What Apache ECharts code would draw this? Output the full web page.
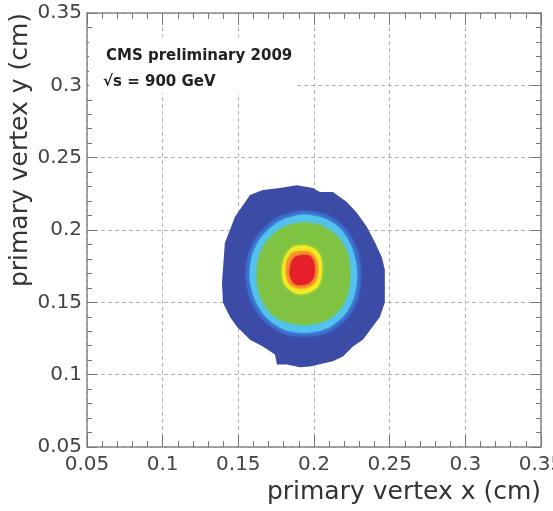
<!DOCTYPE html>
<html>
<head>
<meta charset="utf-8">
<script src="https://cdn.jsdelivr.net/npm/echarts@6/dist/echarts.min.js"></script>
<style>
  html, body { margin: 0; padding: 0; background: #fff; }
  #chart { width: 553px; height: 511px; }
</style>
</head>
<body>
<div id="chart"></div>
<script>
// axis ranges
var xRange = [0.05, 0.35];
var yRange = [0.05, 0.35];
var tickStep = 0.05;

// contour boundaries (x, y in cm), outermost first
var contourOuter = [
    [0.1478, 0.2091], [0.1577, 0.2242], [0.1662, 0.2276], [0.1775, 0.2290], [0.1887, 0.2310],
    [0.1993, 0.2290], [0.2039, 0.2262], [0.2125, 0.2262], [0.2217, 0.2194], [0.2283, 0.2119],
    [0.2349, 0.2023], [0.2402, 0.1916], [0.2448, 0.1814], [0.2468, 0.1725], [0.2468, 0.1499],
    [0.2435, 0.1399], [0.2382, 0.1324], [0.2323, 0.1242], [0.2257, 0.1194], [0.2191, 0.1126],
    [0.2125, 0.1092], [0.1973, 0.1057], [0.1907, 0.1051], [0.1821, 0.1071], [0.1755, 0.1071],
    [0.1742, 0.1140], [0.1662, 0.1194], [0.1577, 0.1242], [0.1491, 0.1331], [0.1445, 0.1399],
    [0.1398, 0.1499], [0.1392, 0.1636], [0.1398, 0.1725], [0.1411, 0.1910], [0.1445, 0.2002]
];
var contourBlue = [
    [0.1927, 0.2133], [0.2079, 0.2105], [0.2197, 0.2023], [0.2277, 0.1889], [0.2310, 0.1725],
    [0.2297, 0.1554], [0.2231, 0.1406], [0.2105, 0.1297], [0.1953, 0.1263], [0.1801, 0.1283],
    [0.1676, 0.1365], [0.1590, 0.1492], [0.1550, 0.1657], [0.1563, 0.1821], [0.1629, 0.1964],
    [0.1755, 0.2085]
];
var contourCyan = [
    [0.1927, 0.2105], [0.2072, 0.2078], [0.2178, 0.2003], [0.2250, 0.1875], [0.2283, 0.1725],
    [0.2270, 0.1561], [0.2211, 0.1427], [0.2092, 0.1324], [0.1947, 0.1290], [0.1808, 0.1311],
    [0.1696, 0.1386], [0.1616, 0.1506], [0.1577, 0.1657], [0.1590, 0.1814], [0.1649, 0.1944],
    [0.1768, 0.2057]
];
var contourGreen = [
    [0.1927, 0.2050], [0.2052, 0.2030], [0.2151, 0.1957], [0.2217, 0.1848], [0.2237, 0.1711],
    [0.2224, 0.1568], [0.2171, 0.1454], [0.2072, 0.1372], [0.1940, 0.1345], [0.1814, 0.1365],
    [0.1715, 0.1427], [0.1649, 0.1533], [0.1623, 0.1663], [0.1636, 0.1807], [0.1689, 0.1923],
    [0.1795, 0.2016]
];
var contourYellow = [
    [0.1855, 0.1878], [0.1934, 0.1892], [0.2000, 0.1871], [0.2040, 0.1823], [0.2053, 0.1747],
    [0.2047, 0.1664], [0.2020, 0.1602], [0.1961, 0.1567], [0.1888, 0.1560], [0.1829, 0.1595],
    [0.1796, 0.1650], [0.1789, 0.1733], [0.1809, 0.1816]
];
var contourOrange = [
    [0.1862, 0.1844], [0.1961, 0.1851], [0.2014, 0.1803], [0.2027, 0.1712], [0.2000, 0.1630],
    [0.1921, 0.1595], [0.1842, 0.1623], [0.1815, 0.1699], [0.1822, 0.1789]
];
var contourRed = [
    [0.1881, 0.1816], [0.1967, 0.1823], [0.2000, 0.1775], [0.2000, 0.1678], [0.1961, 0.1630],
    [0.1881, 0.1623], [0.1842, 0.1678], [0.1848, 0.1768]
];

var contours = [contourOuter, contourBlue, contourCyan, contourGreen, contourYellow, contourOrange, contourRed];
var contourColors = ['#3c4ba6', '#3b6ccb', '#52c3ee', '#80c343', '#f4ec22', '#f4992a', '#e6202a'];
var contourSmooth = [0, 0.3, 0.3, 0.3, 0.3, 0.3, 0.3];

var myChart = echarts.init(document.getElementById('chart'));

var axisColor = '#888';
var tickColor = '#777';
var labelFont = 'DejaVu Sans';

function makeContour(pts, i) {
    return {
        type: 'custom',
        name: 'level' + i,
        silent: true,
        clip: true,
        z: 3 + i,
        data: pts,
        encode: { x: 0, y: 1 },
        renderItem: function(params, api) {
            if (params.dataIndex !== 0) return null;
            var points = pts.map(function(p) { return api.coord(p); });
            return {
                type: 'polygon',
                shape: { points: points, smooth: contourSmooth[i] },
                style: {
                    fill: contourColors[i],
                    shadowBlur: i > 0 ? 3 : 0,
                    shadowColor: contourColors[i]
                }
            };
        }
    };
}

// one side of the frame; only bottom / left carry labels and grid lines
function frameAxis(pos, isX, main) {
    var range = isX ? xRange : yRange;
    var label = { show: false };
    if (main) {
        label = {
            show: true,
            margin: isX ? 8 : 5,
            fontFamily: labelFont,
            fontSize: 20,
            color: '#444',
            formatter: function(v) { return String(+v.toFixed(2)); }
        };
        if (isX) {
            // keep the end labels centred on their ticks (the last one runs off the page)
            label.alignMinLabel = 'center';
            label.alignMaxLabel = 'center';
        }
    }
    return {
        type: 'value',
        position: pos,
        min: range[0],
        max: range[1],
        interval: tickStep,
        axisLine: { show: true, onZero: false, lineStyle: { color: axisColor, width: 1.5 } },
        axisTick: { show: true, inside: true, length: isX ? 12 : 10, lineStyle: { color: tickColor, width: 1 } },
        minorTick: { show: true, splitNumber: 5, length: isX ? 6 : 5, lineStyle: { color: tickColor, width: 1 } },
        axisLabel: label,
        splitLine: main ? {
            show: true,
            lineStyle: { color: '#b4b4b4', width: 1, type: [4, 3] }
        } : { show: false }
    };
}

option = {
    backgroundColor: '#fff',
    animation: false,
    grid: {
        left: 87,
        right: 12,
        top: 13,
        bottom: 64,
        containLabel: false,
        outerBoundsMode: 'none'
    },
    xAxis: [frameAxis('bottom', true, true), frameAxis('top', true, false)],
    yAxis: [frameAxis('left', false, true), frameAxis('right', false, false)],
    graphic: [
        {
            type: 'rect',
            z: 20,
            shape: { x: 89, y: 37, width: 206, height: 56 },
            style: { fill: '#fff' }
        },
        {
            type: 'text',
            z: 21,
            x: 106,
            y: 56,
            style: {
                text: 'CMS preliminary 2009',
                font: 'bold 15px "DejaVu Sans"',
                fill: '#222',
                verticalAlign: 'middle'
            }
        },
        {
            type: 'text',
            z: 21,
            x: 103,
            y: 82,
            style: {
                text: '\u221As = 900 GeV',
                font: 'bold 15px "DejaVu Sans"',
                fill: '#222',
                verticalAlign: 'middle'
            }
        },
        {
            type: 'text',
            z: 21,
            x: 541,
            y: 492,
            style: {
                text: 'primary vertex x (cm)',
                font: '25px "DejaVu Sans"',
                fill: '#333',
                align: 'right',
                verticalAlign: 'middle'
            }
        },
        {
            type: 'text',
            z: 21,
            x: 20,
            y: 13,
            rotation: Math.PI / 2,
            style: {
                text: 'primary vertex y (cm)',
                font: '25px "DejaVu Sans"',
                fill: '#333',
                align: 'right',
                verticalAlign: 'middle'
            }
        }
    ],
    series: contours.map(makeContour)
};

myChart.setOption(option);
</script>
</body>
</html>
